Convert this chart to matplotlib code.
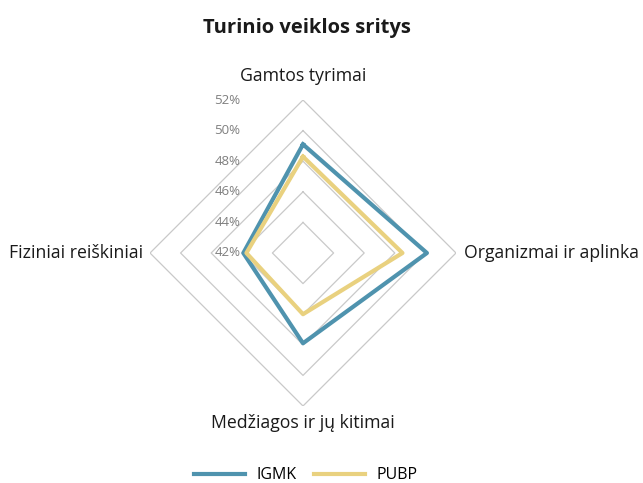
import numpy as np
import matplotlib
matplotlib.use("Agg")
import matplotlib.pyplot as plt

# Duomenys
kategorijos = ["Gamtos tyrimai", "Organizmai ir aplinka", "Medžiagos ir jų kitimai", "Fiziniai reiškiniai"]
igmk = [49.1, 50.1, 47.9, 45.9]
pubp = [48.3, 48.5, 46.0, 45.7]
skale = [42, 44, 46, 48, 50, 52]

plt.rcParams['font.family'] = ['Open Sans', 'DejaVu Sans']

fig = plt.figure(figsize=(6.43, 4.83), dpi=100)
ax = fig.add_axes([150/643, 77/483, 306/643, 306/483], projection='polar')
ax.set_theta_offset(np.pi/2)
ax.set_theta_direction(-1)
ax.set_ylim(42, 52)
ax.grid(False)
ax.spines['polar'].set_visible(False)
ax.set_xticks([])
ax.set_yticks([])
ax.patch.set_alpha(0)

kampai = np.linspace(0, 2*np.pi, len(kategorijos), endpoint=False)
uzdaryti = np.append(kampai, kampai[0])

# tinklelis - rombai
for r in skale[1:]:
    ax.plot(uzdaryti, [r]*len(uzdaryti), color='#c9c9c9', lw=0.9, zorder=1)

# skales etiketes (lygiuotos ties x = centras - 63 px)
for r in skale:
    ax.annotate(f"{r}%", xy=(0, r), xytext=(-45, 0), textcoords='offset points',
                ha='right', va='center', fontsize=9.5, color='#7f7f7f')

ax.plot(uzdaryti, igmk + igmk[:1], color='#4f93ae', lw=3, label='IGMK', zorder=3)
ax.plot(uzdaryti, pubp + pubp[:1], color='#e9d17f', lw=3, label='PUBP', zorder=3)

# kategoriju pavadinimai
poslinkiai = [((0, 14), 'center', 'baseline'), ((6, 0), 'left', 'center'),
              ((0, -16), 'center', 'baseline'), ((-5, 0), 'right', 'center')]
for kampas, pav, (xy, ha, va) in zip(kampai, kategorijos, poslinkiai):
    ax.annotate(pav, xy=(kampas, 52), xytext=xy, textcoords='offset points',
                ha=ha, va=va, fontsize=12.7, color='#1a1a1a')

fig.text(0.477, 1 - 33/483, "Turinio veiklos sritys", ha='center', va='baseline',
         fontsize=14.5, fontweight='bold', color='#1a1a1a')

fig.legend(loc='center', bbox_to_anchor=(0.475, 0.016), ncol=2, frameon=False,
           fontsize=11.5, handlelength=3.2, columnspacing=1.1, handletextpad=0.7)

fig.savefig("out.png", dpi=100)
